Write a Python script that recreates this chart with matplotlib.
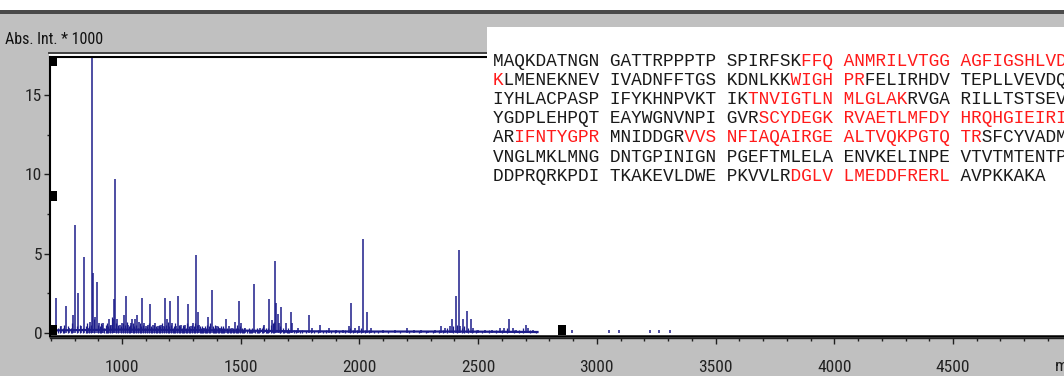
import matplotlib
matplotlib.use("Agg")
import matplotlib.pyplot as plt
from matplotlib.patches import Rectangle
from matplotlib.lines import Line2D
import matplotlib.ticker as mticker

# ---------------- data ----------------
peak_mz = [723, 744, 765, 778, 794, 803, 815, 828, 841, 857, 866, 874, 878, 887, 895,
           904, 916, 920, 945, 954, 962, 966, 971, 979, 992, 1000, 1008, 1017, 1025,
           1038, 1042, 1055, 1063, 1071, 1084, 1092, 1101, 1109, 1117, 1130, 1138,
           1151, 1164, 1172, 1180, 1189, 1201, 1210, 1227, 1235, 1248, 1264, 1277,
           1289, 1298, 1310, 1318, 1323, 1344, 1361, 1378, 1399, 1411, 1436, 1449,
           1462, 1475, 1491, 1500, 1520, 1554, 1580, 1600, 1620, 1632, 1646, 1650,
           1655, 1660, 1671, 1690, 1713, 1718, 1740, 1789, 1800, 1834, 1870, 1900,
           1930, 1955, 1965, 1980, 2000, 2015, 2032, 2050, 2100, 2150, 2200, 2230,
           2260, 2290, 2320, 2345, 2360, 2380, 2389, 2405, 2418, 2425, 2435, 2452,
           2468, 2480, 2500, 2530, 2560, 2590, 2610, 2632, 2645, 2660, 2703, 2712,
           2730, 2896, 3050, 3093, 3223, 3261, 3307]
peak_int = [2.2, 0.4, 1.7, 0.3, 1.1, 6.8, 2.5, 0.4, 4.8, 0.3, 0.7, 17.6, 3.8, 1.0, 3.2,
            0.6, 0.5, 0.6, 0.9, 0.5, 0.9, 2.1, 9.7, 0.9, 0.5, 0.6, 1.1, 2.3, 0.5,
            0.6, 0.9, 0.9, 1.1, 0.7, 2.2, 0.6, 0.4, 0.5, 1.8, 0.5, 0.6,
            0.4, 0.5, 0.4, 2.2, 0.9, 2.0, 0.6, 0.4, 2.3, 0.5, 0.5, 1.8,
            0.4, 0.6, 4.9, 1.3, 0.5, 0.3, 1.0, 2.7, 0.4, 0.3, 0.9, 0.4,
            0.3, 0.7, 2.0, 0.6, 0.3, 3.1, 0.3, 0.5, 2.1, 0.8, 4.5, 1.9,
            1.2, 0.6, 1.6, 0.6, 1.3, 0.6, 0.3, 1.1, 0.3, 0.5, 0.3, 0.2,
            0.2, 0.4, 1.9, 0.3, 0.4, 5.9, 1.3, 0.3, 0.2, 0.2, 0.3, 0.2,
            0.2, 0.1, 0.2, 0.4, 0.3, 0.4, 0.9, 2.3, 5.2, 0.4, 0.9, 1.4,
            0.9, 0.3, 0.2, 0.2, 0.2, 0.3, 0.3, 0.9, 0.3, 0.2, 0.5, 0.3,
            0.2, 0.2, 0.2, 0.2, 0.2, 0.2, 0.2]

# small noise spikes of the spectrum (m/z, intensity)
noise_peaks = [
    (705, 0.4), (712, 0.3), (718, 0.5), (731, 0.3), (737, 0.4), (750, 0.3), (756, 0.5),
    (771, 0.4), (784, 0.3), (789, 0.6), (809, 0.4), (821, 0.5), (834, 0.3), (847, 0.4),
    (851, 0.6), (862, 0.4), (870, 0.5), (883, 0.9), (899, 0.5), (908, 0.4), (911, 0.6),
    (925, 0.3), (931, 0.5), (937, 0.6), (941, 0.4), (950, 0.5), (958, 1.0), (975, 0.6),
    (985, 0.5), (996, 0.4), (1004, 0.6), (1012, 0.5), (1021, 0.7), (1030, 0.4), (1034, 0.5),
    (1047, 0.6), (1051, 0.4), (1059, 0.5), (1067, 0.3), (1076, 0.6), (1080, 0.4), (1088, 0.5),
    (1097, 0.3), (1105, 0.4), (1113, 0.6), (1122, 0.4), (1126, 0.3), (1134, 0.5), (1143, 0.4),
    (1147, 0.3), (1156, 0.5), (1160, 0.4), (1168, 0.6), (1176, 0.4), (1185, 0.5), (1193, 0.7),
    (1197, 0.4), (1206, 0.5), (1214, 0.3), (1218, 0.4), (1223, 0.6), (1231, 0.3), (1240, 0.5),
    (1244, 0.4), (1252, 0.3), (1256, 0.5), (1260, 0.4), (1269, 0.3), (1273, 0.6), (1281, 0.4),
    (1285, 0.3), (1293, 0.5), (1302, 0.4), (1306, 0.6), (1314, 0.5), (1327, 0.4), (1331, 0.3),
    (1336, 0.4), (1340, 0.3), (1348, 0.4), (1353, 0.3), (1357, 0.5), (1365, 0.4), (1370, 0.6),
    (1382, 0.4), (1386, 0.3), (1391, 0.5), (1395, 0.3), (1403, 0.4), (1407, 0.3), (1416, 0.4),
    (1420, 0.3), (1424, 0.4), (1428, 0.3), (1441, 0.3), (1445, 0.2), (1454, 0.3), (1458, 0.2),
    (1467, 0.3), (1471, 0.2), (1479, 0.3), (1483, 0.5), (1487, 0.3), (1496, 0.4), (1504, 0.3),
    (1508, 0.2), (1512, 0.3), (1525, 0.2), (1533, 0.3), (1537, 0.2), (1542, 0.2), (1546, 0.3),
    (1559, 0.2), (1567, 0.3), (1571, 0.2), (1575, 0.2), (1588, 0.3), (1592, 0.4), (1605, 0.3),
    (1609, 0.2), (1613, 0.3), (1626, 0.5), (1638, 0.6), (1642, 0.7), (1664, 0.4), (1667, 0.3),
    (1677, 0.3), (1682, 0.2), (1695, 0.2), (1700, 0.3), (1705, 0.2), (1725, 0.2), (1732, 0.2),
    (1750, 0.1), (1760, 0.2), (1775, 0.1), (1795, 0.2), (1810, 0.1), (1825, 0.2), (1845, 0.1),
    (1860, 0.2), (1880, 0.1), (1895, 0.1), (1915, 0.1), (1940, 0.2), (1960, 0.3), (1972, 0.2),
    (1990, 0.2), (2008, 0.3), (2025, 0.2), (2040, 0.2), (2060, 0.1), (2080, 0.1), (2120, 0.1),
    (2170, 0.1), (2210, 0.1), (2250, 0.1), (2280, 0.1), (2310, 0.1), (2335, 0.2), (2352, 0.2),
    (2370, 0.3), (2395, 0.4), (2411, 0.5), (2430, 0.3), (2442, 0.4), (2458, 0.3), (2475, 0.2),
    (2490, 0.2), (2515, 0.1), (2545, 0.2), (2575, 0.2), (2600, 0.2), (2620, 0.3), (2650, 0.2),
    (2670, 0.2), (2690, 0.3), (2720, 0.2), (2745, 0.1),
]

baseline_mz = [700, 1000, 1450, 1700, 2000, 2400, 2750]
baseline_int = [0.15, 0.2, 0.15, 0.1, 0.08, 0.08, 0.05]

marker_mz = [712, 712, 712, 2853]
marker_y = [17.1, 8.6, 0.15, 0.15]

xtick_values = [1000, 1500, 2000, 2500, 3000, 3500, 4000, 4500]
ytick_values = [0, 5, 10, 15]

# sequence lines, [ ... ] = matched peptides (red)
seq_lines = [
    "MAQKDATNGN GATTRPPPTP SPIRFSK[FFQ ANMRILVTGG AGFIGSHLVD]",
    "[K]LMENEKNEV IVADNFFTGS KDNLKK[WIGH PR]FELIRHDV TEPLLVEVDQ",
    "IYHLACPASP IFYKHNPVKT IK[TNVIGTLN MLGLAK]RVGA RILLTSTSEV",
    "YGDPLEHPQT EAYWGNVNPI GVR[SCYDEGK RVAETLMFDY HRQHGIEIRI]",
    "AR[IFNTYGPR] MNIDDGR[VVS NFIAQAIRGE ALTVQKPGTQ TR]SFCYVADM",
    "VNGLMKLMNG DNTGPINIGN PGEFTMLELA ENVKELINPE VTVTMTENTP",
    "DDPRQRKPDI TKAKEVLDWE PKVVLR[DGLV LMEDDFRERL] AVPKKAKA",
]

# ---------------- figure ----------------
W, H, DPI = 1064, 376, 100
fig = plt.figure(figsize=(W / DPI, H / DPI), dpi=DPI, facecolor="#c0c0c0")
NARROW = ["Roboto Condensed", "Liberation Sans Narrow", "DejaVu Sans"]


def fx(px):
    return px / W


def fy(py):
    return 1 - py / H


# top white strip + dark bar
fig.patches.append(Rectangle((0, fy(10)), 1, 10 / H, transform=fig.transFigure,
                             facecolor="white", edgecolor="none", zorder=-5))
fig.patches.append(Rectangle((0, fy(13.5)), 1, 3.5 / H, transform=fig.transFigure,
                             facecolor="#4a4a4a", edgecolor="none", zorder=-5))
# outer white frame of plot
fig.patches.append(Rectangle((fx(49), fy(337.5)), 1, (337.5 - 52) / H, transform=fig.transFigure,
                             facecolor="white", edgecolor="none", zorder=-4))
fig.add_artist(Line2D([fx(49), 1], [fy(52.5), fy(52.5)], transform=fig.transFigure,
                      color="#303030", lw=1.3, zorder=-3))

ax = fig.add_axes([fx(50), fy(335.5), 1 - fx(50), (335.5 - 57) / H])
ax.set_facecolor("white")
ax.set_xlim(696.7, 4967.5)
ax.set_ylim(-0.17, 17.39)

navy = "#1c1c8a"
ax.vlines([p[0] for p in noise_peaks], 0, [p[1] for p in noise_peaks], color=navy, lw=0.9)
ax.vlines(peak_mz, 0, peak_int, color=navy, lw=1.1)
ax.plot(baseline_mz, baseline_int, color=navy, lw=1.6)

# black markers of the acquisition software
for mx, my in zip(marker_mz, marker_y):
    ax.add_patch(Rectangle((mx - 15, my - 0.3), 30, 0.62, facecolor="black",
                           edgecolor="none", zorder=4))

for s in ["top", "left"]:
    ax.spines[s].set_linewidth(1.5)
    ax.spines[s].set_color("black")
ax.spines["right"].set_visible(False)
ax.spines["bottom"].set_position(("outward", 1.8))
ax.spines["bottom"].set_linewidth(1.0)
ax.spines["bottom"].set_color("#202020")
ax.axhline(ax.get_ylim()[0], color="black", lw=1.8, clip_on=False, zorder=5)

ax.xaxis.set_major_locator(mticker.FixedLocator(xtick_values))
ax.xaxis.set_minor_locator(mticker.MultipleLocator(100))
ax.yaxis.set_major_locator(mticker.FixedLocator(ytick_values))
ax.yaxis.set_minor_locator(mticker.MultipleLocator(2.5))
ax.tick_params(axis="x", which="major", direction="out", length=4.5, width=1.0,
               color="#202020", pad=11.5, labelsize=12.5, labelcolor="#222222")
ax.tick_params(axis="x", which="minor", direction="out", length=2.5, width=1.0, color="#202020")
ax.tick_params(axis="y", which="major", direction="out", length=4.5, width=1.0,
               color="#202020", pad=1, labelsize=12.5, labelcolor="#222222")
ax.tick_params(axis="y", which="minor", direction="out", length=2.5, width=1.0, color="#202020")
for lab in ax.get_xticklabels() + ax.get_yticklabels():
    lab.set_family(NARROW)
    lab.set_stretch("condensed")

fig.text(fx(5), fy(40), "Abs. Int. * 1000", ha="left", va="center", fontsize=11.5,
         family=NARROW, stretch="condensed", color="#111111")
fig.text(fx(1055), fy(366), "m/z", ha="left", va="center", fontsize=12.5,
         family=NARROW, stretch="condensed", color="#222222")

# sequence box
fig.patches.append(Rectangle((fx(487), fy(200)), 1, (200 - 27) / H, transform=fig.transFigure,
                             facecolor="white", edgecolor="none", zorder=5))


def split_colors(line):
    black, red, inred = [], [], False
    for ch in line:
        if ch == "[":
            inred = True
            continue
        if ch == "]":
            inred = False
            continue
        if inred:
            red.append(ch)
            black.append(" ")
        else:
            black.append(ch)
            red.append(" ")
    return "".join(black), "".join(red)


for i, line in enumerate(seq_lines):
    b, r = split_colors(line)
    yy = fy(61 + i * 19.2)
    fig.text(fx(493), yy, b, ha="left", va="center", fontsize=12.8,
             family="Liberation Mono", color="#1a1a1a", zorder=6)
    fig.text(fx(493), yy, r, ha="left", va="center", fontsize=12.8,
             family="Liberation Mono", color="#ff1a1a", zorder=6)

fig.savefig("out.png", dpi=DPI, facecolor=fig.get_facecolor())
